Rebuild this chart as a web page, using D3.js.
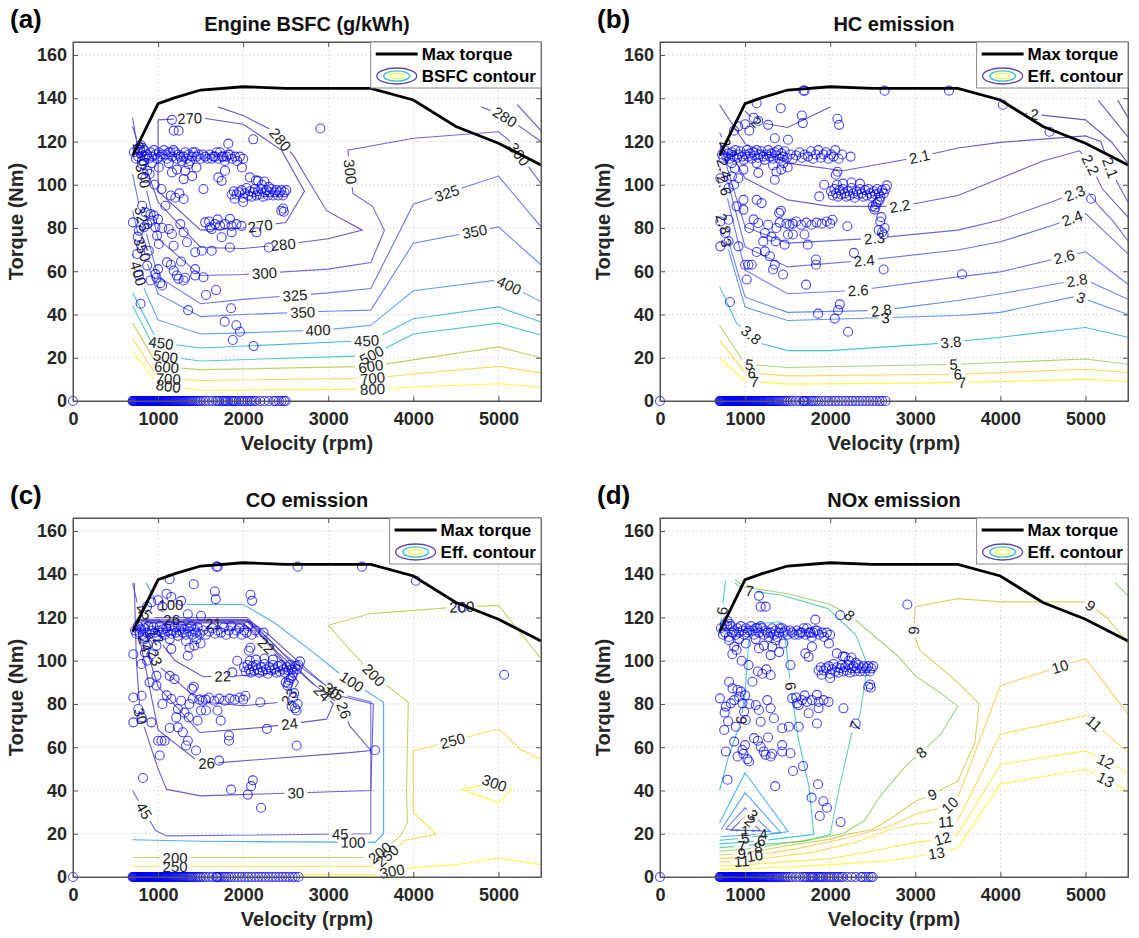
<!DOCTYPE html>
<html lang="en">
<head>
<meta charset="utf-8">
<script src="https://cdn.jsdelivr.net/npm/d3@7"></script>
<style>
  body { margin: 0; background: #fff; }
  text { font-family: "Liberation Sans", Arial, sans-serif; }
  .tick text { font-size: 18px; font-weight: bold; fill: #262626; }
  .tick line, .domain { stroke: #555; }
  .clab { font-size: 15px; fill: #222; }
</style>
</head>
<body>
<svg id="fig" width="1139" height="938"></svg>
<script>
// ---- axes ----
var rpmTicks = [0, 1000, 2000, 3000, 4000, 5000];
var torqueTicks = [0, 20, 40, 60, 80, 100, 120, 140, 160];

// ---- max torque curve ----
var maxTorqueRpm = [700, 1000, 1200, 1500, 2000, 2500, 3000, 3500, 4000, 4500, 5000, 5500];
var maxTorqueNm  = [113.5, 137.5, 140.3, 143.8, 145.3, 144.6, 144.6, 144.6, 139.2, 126.9, 119.2, 109.1];

// ---- contour lines, [rpm, Nm] ----
var bsfcContours = [
  {level: 270, pts: [[1000,130],[1000,97],[1500,79],[2000,80],[2500,82.5],[2720,97],[2450,116],[2000,128],[1500,131],[1000,130]], labels: [[1370,131],[2200,81]]},
  {level: 270, pts: [[5220,137],[5500,125]], labels: []},
  {level: 280, pts: [[700,127],[780,117],[1000,92],[1500,71],[2000,70.5],[2500,72.5],[3000,75],[3400,79],[2980,88],[2720,105],[2600,113],[2350,125],[2000,132],[1700,136]], labels: [[795,114],[2440,121],[2470,72.5]]},
  {level: 280, pts: [[4800,136],[5050,132],[5250,127],[5500,120]], labels: [[5080,131.5]]},
  {level: 300, pts: [[700,131],[800,108],[1000,75],[1500,58],[2000,58.5],[3000,61],[3500,64],[3660,79],[3520,90],[3290,96],[3230,116],[4000,121.5],[5000,124.5],[5110,121],[5360,108],[5500,100.5]], labels: [[810,104],[2250,59.5],[3260,106],[5240,114]]},
  {level: 325, pts: [[700,105],[790,88],[1000,57.5],[1500,45],[2000,47],[3000,50],[3500,52],[4000,91],[5000,104],[5500,80.5]], labels: [[790,84],[2610,48.5],[4400,95.5]]},
  {level: 350, pts: [[700,88],[790,73],[1000,49.5],[1500,39],[2000,40],[3000,41.5],[3500,42],[4000,73],[5000,80.5],[5500,63]], labels: [[800,70],[2700,41],[4720,78.5]]},
  {level: 400, pts: [[700,68],[790,56],[1000,37.5],[1500,31],[2000,31.5],[3000,33],[3500,35],[4000,51],[5000,56],[5500,46]], labels: [[775,59],[2880,33],[5120,53]]},
  {level: 450, pts: [[700,50],[1000,27],[1500,24.5],[3500,28],[4000,38],[5000,43.5],[5500,36.5]], labels: [[1040,28],[3450,28.5]]},
  {level: 500, pts: [[700,44],[1000,21],[1500,18.5],[3500,21],[4000,31],[5000,36],[5500,30.5]], labels: [[1090,21],[3500,22]]},
  {level: 600, pts: [[700,36],[1000,16],[1500,14.5],[3500,16],[4000,19],[5000,25],[5500,20]], labels: [[1100,15.8],[3500,16.3]]},
  {level: 700, pts: [[700,29],[1000,10.5],[1500,9.5],[3500,10.5],[4000,12.5],[5000,16],[5500,13]], labels: [[1120,10.3],[3520,11]]},
  {level: 800, pts: [[700,23],[1000,7.5],[1500,5],[3500,5.5],[4000,6.5],[5000,8],[5500,6.5]], labels: [[1120,6.8],[3520,5.8]]}
];

var hcContours = [
  {level: 1.9, pts: [[5150,139],[5500,122]], labels: []},
  {level: 1.8, pts: [[5380,139],[5500,131]], labels: []},
  {level: 2, pts: [[1000,134],[1130,129],[1500,126.5],[2000,136]], labels: [[1130,129]]},
  {level: 2, pts: [[4300,133],[5000,130],[5300,120],[5500,110]], labels: [[4400,132.5]]},
  {level: 2.1, pts: [[700,137],[1000,119],[1500,110],[2150,106.5],[3000,112.5],[3500,117],[4000,119.6],[5000,122.6],[5180,120],[5320,105],[5500,92]], labels: [[3050,113],[5300,108]]},
  {level: 2.2, pts: [[700,124],[1000,103],[1500,93],[2000,90],[2800,90],[3000,91.3],[3500,95],[4000,103],[4500,111],[4930,115.7],[5050,110],[5200,98],[5500,85]], labels: [[820,117],[2820,90],[5050,109]]},
  {level: 2.3, pts: [[700,119.5],[1000,80.5],[1500,73],[2500,75.2],[3500,79],[4000,83.7],[4600,92],[5000,98],[5170,89.6],[5320,83.4],[5500,74]], labels: [[2520,75.5],[4880,95.5]]},
  {level: 2.4, pts: [[700,115.5],[1000,71.3],[1500,62],[2400,65],[3500,69.8],[4000,73.6],[4600,81],[5000,86.8],[5500,68]], labels: [[800,108],[2400,65],[4850,84]]},
  {level: 2.6, pts: [[700,108.5],[1000,60.5],[1500,49.6],[2330,51.2],[3500,57.4],[4000,59.7],[4750,66.7],[5000,69],[5500,54]], labels: [[780,100],[2330,51.2],[4750,66.7]]},
  {level: 2.8, pts: [[700,88],[1000,48],[1500,41],[2600,41.9],[3500,46.5],[4000,49.6],[4900,55.8],[5000,56],[5500,47]], labels: [[760,82],[2600,42],[4900,55.8]]},
  {level: 3, pts: [[700,79],[760,76],[1000,43.4],[1500,37.2],[3500,39.5],[4000,41],[4900,48.5],[5500,40]], labels: [[765,73],[2650,38.5],[4950,48]]},
  {level: 3.8, pts: [[700,53],[900,36],[1200,26.5],[1500,23.3],[2000,23.3],[3200,26.4],[4000,29.5],[5000,34],[5500,29.5]], labels: [[1050,29.5],[3420,27]]},
  {level: 5, pts: [[700,35],[1000,17],[1500,15.5],[3500,17],[5000,19.4],[5500,17]], labels: [[1050,17.5],[3450,17]]},
  {level: 6, pts: [[700,28],[1000,13.2],[1500,11.6],[3500,12.4],[5000,14.7],[5500,13.2]], labels: [[1080,13],[3500,12.5]]},
  {level: 7, pts: [[700,20],[1000,9.3],[1500,7.8],[3500,8.5],[5000,10],[5500,9]], labels: [[1110,8.5],[3550,8.3]]}
];

var coContours = [
  {level: 21, pts: [[1100,116.5],[1650,117.2],[2000,117],[2080,115],[1650,114.2],[1100,114.2],[1100,116.5]], labels: [[1650,116.5]]},
  {level: 22, pts: [[850,117.5],[2000,117.5],[2120,113],[2300,106],[2550,96],[2200,93.5],[1900,93],[1530,92.6],[1200,100],[1000,110],[850,117.5]], labels: [[2270,107],[1760,92.8],[900,109]]},
  {level: 23, pts: [[800,118],[2050,118],[2200,112],[2450,101],[2650,90],[2500,81],[2000,79.2],[1500,81],[1000,97.8],[800,118]], labels: [[2510,84],[935,101]]},
  {level: 24, pts: [[760,118.5],[2050,118.5],[2300,110],[2700,94],[3060,80],[2980,73],[2230,69.2],[1490,66.8],[1000,88],[760,118.5]], labels: [[2550,69.6],[2900,84],[860,108]]},
  {level: 26, pts: [[740,118.8],[2050,118.8],[2400,104],[2800,90],[3170,78.6],[3250,70],[3500,58.5],[3250,57.5],[1725,52.9],[1500,52.5],[1000,68],[740,118.8]], labels: [[1160,118.8],[3180,77],[1570,52.6]]},
  {level: 30, pts: [[720,136],[745,100],[790,75],[1000,50],[1100,40.5],[1500,37.5],[3500,40],[3530,80],[3100,84],[2750,96],[2300,112],[2050,119.2],[750,119.2]], labels: [[765,74],[2620,38.6],[3000,84.5]]},
  {level: 45, pts: [[700,136],[760,126],[900,120],[2050,120],[2450,104],[2850,92],[3100,85],[3500,81],[3500,20],[1100,19],[970,21.5],[800,33],[700,40]], labels: [[870,124],[810,30],[3140,19],[3080,85]]},
  {level: 100, pts: [[860,136],[1000,126],[2000,126],[2350,118],[2820,104],[3134,94],[3650,80.8],[3650,20],[3550,16],[1500,16.5],[700,17.2]], labels: [[1150,126],[3280,90.5],[3290,15.8]]},
  {level: 200, pts: [[700,9],[3450,9],[3600,11],[3850,19],[3930,25],[3920,40],[3940,80.8],[3690,88.5],[3540,93.2],[3300,103],[3000,116.4],[3500,121.8],[4000,123.3],[4550,124.9],[5000,125.6],[5500,101]], labels: [[1200,8.6],[3600,11.5],[3540,93.5],[4570,125]]},
  {level: 250, pts: [[700,5],[3500,5],[3660,8.8],[3900,17],[4270,19.7],[4000,29.7],[4000,58.3],[4460,63],[5000,68.4],[5260,59.1],[5500,54.5]], labels: [[1200,4.6],[3700,9.5],[4460,63]]},
  {level: 300, pts: [[2650,1.1],[3540,1.1],[3960,4.2],[4500,5.7],[5000,8.8],[5500,5.7]], labels: [[3750,2.5]]},
  {level: 300, pts: [[4570,40.5],[5000,34.4],[5160,40.5],[4950,43.5],[4570,40.5]], labels: [[4950,43.2]]}
];

var noxContours = [
  {level: 1, pts: [[900,21.3],[1000,24.5],[1100,21.3],[900,21.3]], labels: [[1000,21.3]]},
  {level: 2, pts: [[830,21.5],[1000,28],[1180,21.5],[830,21.5]], labels: [[1070,26.3]]},
  {level: 3, pts: [[770,22],[1000,32],[1300,21],[770,22]], labels: [[1130,30.5]]},
  {level: 4, pts: [[720,22],[1000,39],[1420,20.5],[1000,19.3],[720,18.7]], labels: [[1215,20]]},
  {level: 5, pts: [[700,25],[1000,48.2],[1506,21],[1000,18],[700,17]], labels: [[1000,18]]},
  {level: 6, pts: [[770,137],[730,124],[700,112]], labels: [[735,123]]},
  {level: 6, pts: [[700,40],[800,55],[950,72],[1000,85],[1040,108],[1100,117],[1420,118],[1480,108],[1530,90],[1620,65],[1750,42],[1807,19.7],[1200,16.8],[1000,16.2],[700,15.3]], labels: [[960,72.5],[1495,88],[1190,16.8]]},
  {level: 7, pts: [[880,136],[1000,132.5],[1430,130.3],[1975,124.1],[2300,112],[2440,98],[2350,75],[2250,66],[2100,40],[2000,19.7],[1700,16.5],[1000,14.5],[700,13.6]], labels: [[1050,131.5],[2290,70],[960,14.4]]},
  {level: 8, pts: [[700,11.9],[1000,12.8],[1800,17.5],[2150,20],[2400,26],[2600,38],[2900,52],[3070,57.6],[3300,66],[3500,79],[3300,85],[3000,93],[2800,102],[2500,112],[2230,121],[2000,126],[1500,131],[1000,134],[880,137.5]], labels: [[1154,13.4],[3070,57.6],[2230,121]]},
  {level: 8, pts: [[5350,136],[5500,130]], labels: []},
  {level: 9, pts: [[700,10.2],[1000,11],[1500,14.5],[2000,17.5],[2200,19.7],[2500,22],[2750,28],[3000,35],[3200,38.2],[3500,44.4],[3700,62],[3750,80],[3500,90],[3050,105],[2980,113],[3000,125],[3500,128.7],[4000,127.2],[5000,127.2],[5250,120],[5500,108]], labels: [[960,10.9],[3200,38.2],[2980,114],[5060,125.5]]},
  {level: 10, pts: [[700,8.5],[1000,9.2],[1600,13],[2200,18],[2700,23.5],[3000,29],[3400,33],[3500,36.7],[4000,88.5],[5000,101],[5500,75.4]], labels: [[1115,9.6],[3400,33.5],[4700,97.5]]},
  {level: 11, pts: [[700,6.8],[1000,7.4],[1800,11.5],[2300,16],[2700,22],[3000,24.5],[3500,26],[4000,66],[5000,74.6],[5500,57.6]], labels: [[960,7.2],[3360,25.5],[5100,71]]},
  {level: 12, pts: [[700,5.1],[1000,5.6],[2000,8.5],[2500,12],[3000,16],[3300,17.5],[3500,19.7],[4000,52],[5000,58.3],[5500,48.3]], labels: [[3320,17.8],[5230,53]]},
  {level: 13, pts: [[700,3.4],[1000,3.8],[2000,5.7],[2700,7.5],[3000,9.5],[3250,11],[3500,13.5],[4000,43],[5000,49.8],[5500,39.8]], labels: [[3250,11],[5230,44.5]]}
];

// ---- operating points (panels a, d) ----
var opPointsA = [
  [1163,130],[1183,125],[1241,125],[2118,121],[1825,119],[2907,126],[794,118.4],[820,117],[760,116.5],
  [716,115],[740,112],[766,113],[790,116],[810,111],[833,116],[850,113],[872,114],[891,112],[910,115],[930,113],[950,116],[969,114],[990,112],
  [1008,115],[1027,113],[1050,114],[1070,116],[1086,114],[1105,112],[1125,115],[1144,115],[1165,113],[1183,116],[1202,115],[1222,112],[1241,114],
  [1260,113],[1280,111],[1300,113],[1320,115],[1340,112],[1358,114],[1375,111],[1397,113],[1410,115],[1436,115],[1455,113],[1475,114],[1500,112],
  [1530,114],[1553,113],[1580,112],[1610,114],[1630,112],[1650,113],[1669,113],[1690,115],[1710,112],[1728,115],[1750,113],[1767,113],[1785,111],
  [1805,113],[1825,114],[1844,114],[1870,112],[1903,113],[1930,111],[1961,113],[2000,112],[1985,108],
  [813,109.5],[872,106.5],[930,110],[1008,108],[1125,110],[1163,105.7],[1222,107],[1300,102.6],[1358,109.5],[1319,106.5],[1533,98],[1708,103.4],
  [1786,106.5],[1747,101.8],[1202,94],[1300,93.4],[1086,90.3],[2078,103.4],[2175,101.8],[900,105],[960,100],[850,103],[1450,108],[1400,104],[1040,98],[1150,95],[1250,96],
  [1864,95.5],[1890,97],[1922,95.5],[1950,96.5],[1981,97.5],[2000,94],[2020,96],[2039,98.5],[2060,95],[2078,97],[2097,94.5],[2117,96.5],[2136,98],
  [2156,95],[2175,97],[2195,95.5],[2214,98],[2234,94.5],[2253,96.5],[2273,97.5],[2292,95],[2312,96.5],[2331,98],[2350,95],[2370,96.5],[2390,97.5],
  [2409,95],[2428,96.5],[2448,97.5],[2467,95],[2486,96.5],[2506,97.5],[2300,99],[2220,100],[2150,102],[2250,101.5],[2000,92],[1900,93.5],
  [2447,88],[2470,89],[2478,87.5],
  [1553,82.6],[1611,80.3],[1669,81.8],[1728,81],[1786,81.8],[1844,84.2],[1864,81],[1922,81.8],[1981,81],[1864,78],[1747,75.7],[2156,78],[1630,79.5],[1700,84],[1600,83],
  [704,82.6],[774,78.8],[833,80.3],[872,81.8],[930,83.4],[969,80.3],[988,76.5],[911,86.5],[813,90.3],[852,87.2],[950,85.7],[1125,79.5],[1163,77.2],
  [1261,81.8],[1300,78],[1339,73.4],[1183,71.8],[1008,72.6],[891,69.5],[755,68],[1436,68.8],[1514,69.5],[1630,69.5],[1844,71],[2300,71],[1050,80],[1000,84],[760,76],[800,72],
  [872,62.6],[969,58.8],[1105,64.2],[1183,60.3],[1241,56.5],[1300,55.7],[1319,57],[1436,58],[1533,57.2],[1436,61],[1027,54.5],[774,58],[1047,53.4],
  [911,55.7],[1150,63],[1270,64.5],[1220,58],[980,57],[1000,61],
  [1563,49],[1681,51.3],[1353,42],[1857,42.9],[1782,36.7],[1920,35],[1962,32],[1878,28.2],[2122,25.4],[794,45]
];
var zeroRpmA = [700,706,712,718,724,730,736,742,748,754,760,766,772,778,784,790,796,802,808,814,820,826,832,838,844,850,856,862,868,874,
  880,886,892,898,904,910,916,922,928,934,940,946,952,958,964,970,976,982,988,994,1000,1008,1016,1024,1032,1040,1048,1056,1064,1072,1080,
  1088,1096,1104,1112,1120,1130,1140,1150,1160,1170,1180,1190,1200,1212,1224,1236,1248,1260,1272,1284,1296,1310,1325,1340,1355,1370,1385,
  1400,1420,1440,1460,1480,1500,1530,1560,1600,1640,1680,1700,1720,1750,1770,1790,1800,1820,1850,1870,1880,1900,1920,1950,1980,2000,2020,
  2050,2080,2100,2130,2150,2200,2250,2300,2360,2380,2420,2450,2480,2500];

// ---- operating points (panels b, c) ----
var opPointsB = [
  [1686,143.5],[1700,143.5],[2640,143.5],[3396,143.5],[4029,137],[4577,124.5],[5067,93.5],[3550,58.6],[1136,137.7],[1419,135.4],[1667,132],[1678,128.5],
  [2085,130.5],[2105,127.7],[1155,129.5],[1271,127.7],[1349,121.5],[1504,120.8],[1000,128],[1050,125],[1100,131],[920,127],[870,125],
  [729,114],[745,112.5],[760,116],[780,113],[800,114.5],[822,112],[845,115],[865,113],[885,116],[905,112.5],[922,114],[945,115.5],[965,113],[985,111.5],
  [1000,114],[1020,116],[1039,113],[1058,114.5],[1078,112],[1097,115],[1117,113.5],[1136,116],[1155,112.5],[1175,114],[1194,115.5],[1213,113],
  [1233,111.5],[1252,114],[1271,116],[1290,113],[1310,114.5],[1329,112],[1349,115],[1368,113.5],[1388,116],[1407,112],[1426,114.5],[1446,113],
  [1465,115.5],[1490,112.5],[1530,114],[1560,112],[1600,113.5],[1640,115],[1670,112.5],[1700,114],[1740,113],[1775,115.5],[1800,112],[1830,114],
  [1860,116],[1890,112.5],[1920,114],[1950,115],[1980,112],[2010,114],[2040,113],[2060,116],[2100,112],[2140,114],[2240,113],
  [845,110],[880,107.5],[981,107],[1136,110],[1155,105.5],[1329,109],[1368,106],[1426,107],[1349,102.3],[2066,104.6],[2085,106],[1930,100],[1872,94.6],[1450,110],[1500,108],
  [2010,97],[2030,95],[2050,98],[2070,96],[2090,94.5],[2110,97.5],[2130,95.5],[2150,98],[2170,96],[2190,94.5],[2210,97],[2230,95],[2250,98.5],
  [2270,96],[2290,94],[2310,97],[2330,95.5],[2350,98],[2370,96],[2390,94.5],[2410,97.5],[2430,95],[2450,98],[2470,96],[2490,94.5],[2510,97],
  [2530,95.5],[2550,98],[2570,96],[2590,94.5],[2610,97.5],[2630,96],[2650,98],[2667,99.7],[2080,100],[2150,100.5],[2250,101],[2350,100.5],
  [2500,90],[2520,88.5],[2540,91],[2560,92],[2580,93],[2530,89.5],[2589,83],[2570,79],[2610,78],[2628,77],[2640,80],[2600,85],
  [1407,82.5],[1484,82],[1523,81.5],[1600,83],[1660,81.5],[1720,82.5],[1780,81.5],[1840,82.5],[1900,82],[1960,83],[2000,82],[2027,83.8],[2201,80.8],[1560,82],
  [709,103],[845,103.8],[922,103],[806,98.5],[981,93],[981,88.5],[1136,93],[1194,91.5],[1155,82.3],[1271,81.5],[1368,80],[1233,77.7],[1310,76],
  [1360,73.8],[1504,77],[1562,77],[1698,77],[1736,72.3],[1213,73.8],[1465,72.3],[1136,68.9],[1233,69.2],[1291,66.9],[1349,63],[1446,58.5],[1329,60.8],
  [1000,63],[1039,63],[1078,63],[1019,56.2],[709,83],[806,83.8],[709,71.5],[767,77.7],[806,73.8],[922,71.5],[1050,80],[1100,84],[900,90],[870,100],[1400,87],[1420,88],
  [1833,65.4],[1833,63],[1717,53.8],[2279,68.5],[2628,60.8],[822,45.8],[1858,40.4],[2054,38.1],[2093,42],[2113,44.7],[2210,32]
];
var zeroRpmB = [700,706,712,718,724,730,736,742,748,754,760,766,772,778,784,790,796,802,808,814,820,826,832,838,844,850,856,862,868,874,
  880,886,892,898,904,910,916,922,928,934,940,946,952,958,964,970,976,982,988,994,1000,1008,1016,1024,1032,1040,1048,1056,1064,1072,1080,
  1088,1096,1104,1112,1120,1130,1140,1150,1160,1170,1180,1190,1200,1212,1224,1236,1248,1260,1272,1284,1296,1310,1325,1340,1355,1370,1385,
  1400,1420,1440,1460,1480,1500,1530,1560,1600,1640,1680,1690,1700,1720,1750,1780,1800,1830,1860,1900,1940,1980,2020,2060,2100,2140,2180,
  2220,2260,2300,2340,2380,2420,2460,2500,2540,2580,2610,2650];

var parulaT = [0, 0.11, 0.24, 0.37, 0.5, 0.62, 0.75, 0.87, 1];
var parulaC = ["#3e26a8", "#4852f4", "#2e87f7", "#12b1d6", "#37c897", "#abc739", "#fec338", "#f6dd2b", "#f9fb14"];

var panels = [
  {tag: "(a)", title: "Engine BSFC (g/kWh)", legend: "BSFC contour", left: 73, top: 42, contours: bsfcContours, range: [270, 800], pts: opPointsA, zero: zeroRpmA},
  {tag: "(b)", title: "HC emission", legend: "Eff. contour", left: 660, top: 42, contours: hcContours, range: [2, 7], pts: opPointsB, zero: zeroRpmB},
  {tag: "(c)", title: "CO emission", legend: "Eff. contour", left: 73, top: 518, contours: coContours, range: [21, 300], pts: opPointsB, zero: zeroRpmB},
  {tag: "(d)", title: "NOx emission", legend: "Eff. contour", left: 660, top: 518, contours: noxContours, range: [1, 13], pts: opPointsA, zero: zeroRpmA}
];

var W = 468, H = 359;
var svg = d3.select("#fig");
var defs = svg.append("defs");
var parula = d3.scaleLinear().domain(parulaT).range(parulaC).clamp(true);

// nearest point on a polyline (pixels) and local angle
function snap(px, tx, ty) {
  var best = {d: Infinity, x: tx, y: ty, a: 0};
  for (var i = 0; i < px.length - 1; i++) {
    var a = px[i], b = px[i + 1];
    var dx = b[0] - a[0], dy = b[1] - a[1], L = dx * dx + dy * dy;
    var t = L ? Math.max(0, Math.min(1, ((tx - a[0]) * dx + (ty - a[1]) * dy) / L)) : 0;
    var qx = a[0] + t * dx, qy = a[1] + t * dy;
    var d = (qx - tx) * (qx - tx) + (qy - ty) * (qy - ty);
    if (d < best.d) best = {d: d, x: qx, y: qy, a: Math.atan2(dy, dx) * 180 / Math.PI};
  }
  if (best.a > 90) best.a -= 180;
  if (best.a < -90) best.a += 180;
  return best;
}

panels.forEach(function(p, pi) {
  var x = d3.scaleLinear().domain([0, 5500]).range([p.left, p.left + W]);
  var y = d3.scaleLinear().domain([0, 166]).range([p.top + H, p.top]);
  var col = function(v) { return parula((v - p.range[0]) / (p.range[1] - p.range[0])); };
  var g = svg.append("g");

  defs.append("clipPath").attr("id", "clip" + pi)
    .append("rect").attr("x", p.left).attr("y", p.top).attr("width", W).attr("height", H);

  // grid
  var grid = g.append("g").attr("stroke", "#d4d4d4").attr("stroke-dasharray", "1.5,2.5");
  grid.selectAll(".gx").data(rpmTicks.slice(1)).join("line").attr("class", "gx")
    .attr("x1", function(d) { return x(d); }).attr("x2", function(d) { return x(d); })
    .attr("y1", p.top).attr("y2", p.top + H);
  grid.selectAll(".gy").data(torqueTicks.slice(1)).join("line").attr("class", "gy")
    .attr("y1", function(d) { return y(d); }).attr("y2", function(d) { return y(d); })
    .attr("x1", p.left).attr("x2", p.left + W);

  // contours with label gaps
  var cg = g.append("g").attr("clip-path", "url(#clip" + pi + ")");
  var lg = g.append("g");
  var line = d3.line().x(function(d) { return x(d[0]); }).y(function(d) { return y(d[1]); });
  p.contours.forEach(function(c, ci) {
    var px = c.pts.map(function(d) { return [x(d[0]), y(d[1])]; });
    var mid = "m" + pi + "_" + ci;
    var mask = defs.append("mask").attr("id", mid).attr("maskUnits", "userSpaceOnUse")
      .attr("x", 0).attr("y", 0).attr("width", 1139).attr("height", 938);
    mask.append("rect").attr("width", 1139).attr("height", 938).attr("fill", "#fff");
    c.labels.forEach(function(l) {
      var s = snap(px, x(l[0]), y(l[1]));
      var tr = "translate(" + s.x + "," + s.y + ") rotate(" + s.a + ")";
      var t = lg.append("text").attr("class", "clab").attr("transform", tr)
        .attr("text-anchor", "middle").attr("dy", "0.36em").text(String(c.level));
      var w = t.node().getComputedTextLength();
      mask.append("rect").attr("transform", tr).attr("x", -w / 2 - 3).attr("y", -7)
        .attr("width", w + 6).attr("height", 14).attr("fill", "#000");
    });
    cg.append("path").attr("d", line(c.pts)).attr("fill", "none")
      .attr("stroke", col(c.level)).attr("stroke-width", 1.1).attr("stroke-opacity", 0.78)
      .attr("mask", "url(#" + mid + ")");
  });

  // operating points
  var all = [[0, 0]].concat(p.zero.map(function(r) { return [r, 0]; }), p.pts);
  g.append("g").selectAll("circle").data(all).join("circle")
    .attr("cx", function(d) { return x(d[0]); }).attr("cy", function(d) { return y(d[1]); })
    .attr("r", 4.5).attr("fill", "none").attr("stroke", "#0000ff")
    .attr("stroke-opacity", 0.72).attr("stroke-width", 1.1);

  // max torque
  g.append("path")
    .attr("d", d3.line().x(function(d, i) { return x(maxTorqueRpm[i]); }).y(function(d) { return y(d); })(maxTorqueNm))
    .attr("fill", "none").attr("stroke", "#000").attr("stroke-width", 2.8);

  // axes
  g.append("g").attr("transform", "translate(0," + (p.top + H) + ")")
    .call(d3.axisBottom(x).tickValues(rpmTicks).tickFormat(d3.format("d")).tickSize(-5).tickSizeOuter(0).tickPadding(11));
  g.append("g").attr("transform", "translate(" + p.left + ",0)")
    .call(d3.axisLeft(y).tickValues(torqueTicks).tickSize(-5).tickSizeOuter(0).tickPadding(6));
  g.append("g").attr("transform", "translate(0," + p.top + ")")
    .call(d3.axisTop(x).tickValues(rpmTicks).tickSize(-5).tickSizeOuter(0).tickFormat(""));
  g.append("g").attr("transform", "translate(" + (p.left + W) + ",0)")
    .call(d3.axisRight(y).tickValues(torqueTicks).tickSize(-5).tickSizeOuter(0).tickFormat(""));
  g.append("rect").attr("x", p.left).attr("y", p.top).attr("width", W).attr("height", H)
    .attr("fill", "none").attr("stroke", "#555");

  // legend
  var lgd = g.append("g");
  var box = lgd.append("rect").attr("fill", "#fff").attr("stroke", "#888");
  var t1 = lgd.append("text").attr("font-size", 17).attr("font-weight", "bold").text("Max torque");
  var t2 = lgd.append("text").attr("font-size", 17).attr("font-weight", "bold").text(p.legend);
  var tw = Math.max(t1.node().getComputedTextLength(), t2.node().getComputedTextLength());
  var lw = 51 + tw + 5, bx = p.left + W - lw, by = p.top;
  box.attr("x", bx).attr("y", by).attr("width", lw).attr("height", 46);
  t1.attr("x", bx + 51).attr("y", by + 18);
  t2.attr("x", bx + 51).attr("y", by + 40);
  lgd.append("line").attr("x1", bx + 5).attr("x2", bx + 47).attr("y1", by + 12).attr("y2", by + 12)
    .attr("stroke", "#000").attr("stroke-width", 2.8);
  [[20, 8, 0], [13, 5.2, 0.38], [7, 2.6, 1]].forEach(function(e) {
    lgd.append("ellipse").attr("cx", bx + 26).attr("cy", by + 34).attr("rx", e[0]).attr("ry", e[1])
      .attr("fill", "none").attr("stroke", parula(e[2])).attr("stroke-width", 1.3).attr("stroke-opacity", 0.85);
  });

  // texts
  g.append("text").attr("x", p.left + W / 2).attr("y", p.top - 11).attr("text-anchor", "middle")
    .attr("font-size", 20).attr("font-weight", "bold").attr("fill", "#111").text(p.title);
  g.append("text").attr("x", p.left - 63).attr("y", p.top - 14)
    .attr("font-size", 26).attr("font-weight", "bold").attr("fill", "#000").text(p.tag);
  g.append("text").attr("x", p.left + W / 2).attr("y", p.top + H + 49).attr("text-anchor", "middle")
    .attr("font-size", 20).attr("font-weight", "bold").attr("fill", "#262626").text("Velocity (rpm)");
  g.append("text").attr("transform", "translate(" + (p.left - 50) + "," + (p.top + H / 2) + ") rotate(-90)")
    .attr("text-anchor", "middle").attr("font-size", 20).attr("font-weight", "bold").attr("fill", "#262626")
    .text("Torque (Nm)");
});
</script>
</body>
</html>
